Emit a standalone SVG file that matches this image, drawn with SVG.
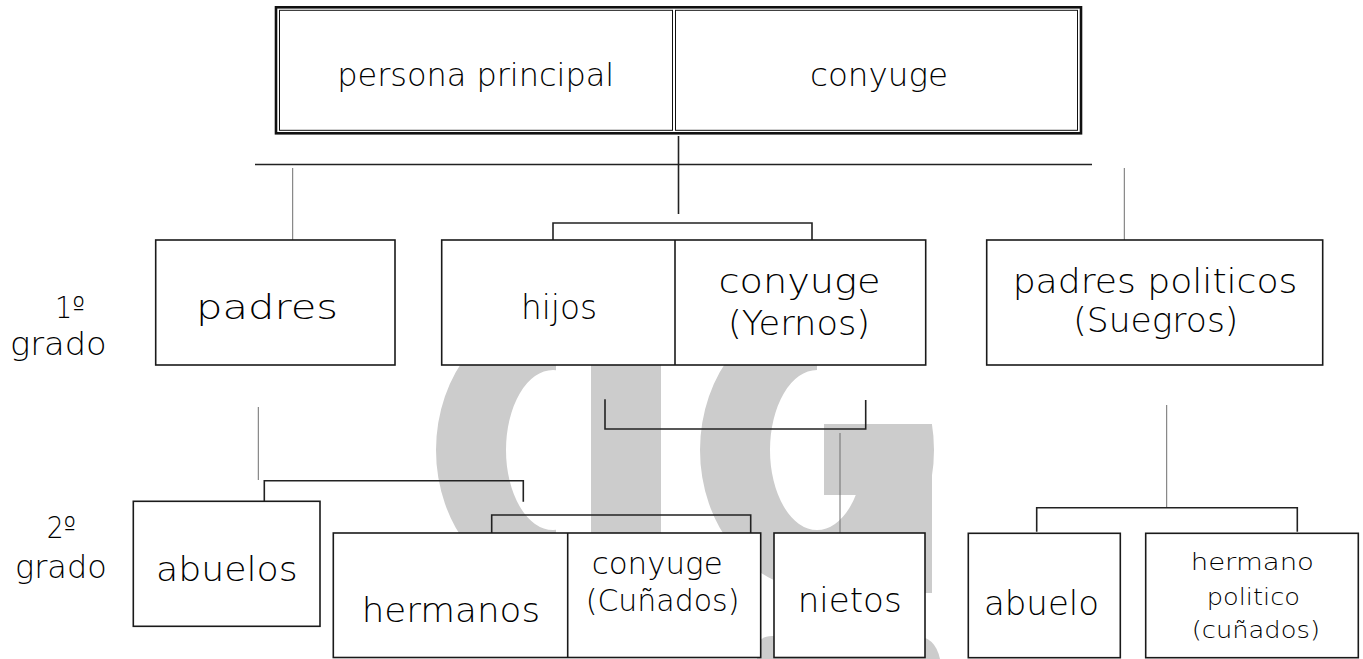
<svg xmlns="http://www.w3.org/2000/svg" width="1363" height="659" viewBox="0 0 1363 659">
<style>
  .box { fill: #ffffff; stroke: #1a1a1a; stroke-width: 1.6; }
  .div { stroke: #1a1a1a; stroke-width: 1.6; fill: none; }
  .thick { fill: #ffffff; stroke: #111111; stroke-width: 2.6; }
  .thin { fill: none; stroke: #111111; stroke-width: 1; }
  .dk { fill: none; stroke: #222222; stroke-width: 1.6; }
  .gr { fill: none; stroke: #6e6e6e; stroke-width: 1; }
  .t { font-family: "DejaVu Sans", "Liberation Sans", sans-serif; font-weight: 200; fill: #000000; }
  .wm { fill: #cccccc; }
</style>
<defs>
  <clipPath id="cClip"><rect x="400" y="250" width="156" height="420"/></clipPath>
  <clipPath id="gClip"><path d="M600 250 H817 V424 H1000 V700 H600 Z"/></clipPath>
</defs>
<rect width="1363" height="659" fill="#ffffff"/>

<g id="watermark">
  <path class="wm" clip-path="url(#cClip)" fill-rule="evenodd" d="M436,450 a117,140 0 1,0 234,0 a117,140 0 1,0 -234,0 Z M506,450 a47,80 0 1,0 94,0 a47,80 0 1,0 -94,0 Z"/>
  <rect class="wm" x="591" y="300" width="70" height="320"/>
  <path class="wm" clip-path="url(#gClip)" fill-rule="evenodd" d="M700,450 a117,140 0 1,0 234,0 a117,140 0 1,0 -234,0 Z M770,450 a47,80 0 1,0 94,0 a47,80 0 1,0 -94,0 Z"/>
  <rect class="wm" x="824" y="424" width="108" height="71"/>
  <rect class="wm" x="863" y="494" width="69" height="99"/>
  <path class="wm" d="M757 659 V650 Q757 636 772 636 H915 Q935 636 940 659 Z"/>
</g>

<g id="connectors">
  <line class="dk" x1="678.5" y1="136" x2="678.5" y2="214"/>
  <line class="dk" x1="255" y1="164.5" x2="1092" y2="164.5"/>
  <line class="gr" x1="292.7" y1="168" x2="292.7" y2="240"/>
  <line class="gr" x1="1124.3" y1="168" x2="1124.3" y2="240"/>
  <path class="dk" d="M553 240 V223 H812 V240"/>
  <line class="gr" x1="258.3" y1="407" x2="258.3" y2="480"/>
  <path class="dk" d="M264.3 501.3 V480.7 H523.3 V501.7"/>
  <path class="dk" d="M491.7 533 V515 H750.7 V533"/>
  <path class="dk" d="M605 399.3 V429 H865.7 V400"/>
  <line class="gr" x1="840" y1="433" x2="840" y2="533"/>
  <line class="gr" x1="1166.7" y1="405" x2="1166.7" y2="507.7"/>
  <path class="dk" d="M1036.7 531.7 V507.7 H1297.3 V531.7"/>
</g>

<g id="node-top">
  <rect class="thick" x="276" y="7.3" width="805" height="126"/>
  <rect class="thin" x="279.5" y="10.3" width="393" height="120"/>
  <rect class="thin" x="675.5" y="10.3" width="402" height="120"/>
  <text class="t" x="337.2" y="86" font-size="32" textLength="277" lengthAdjust="spacingAndGlyphs">persona principal</text>
  <text class="t" x="810" y="86" font-size="32" textLength="138" lengthAdjust="spacingAndGlyphs">conyuge</text>
</g>

<g id="label-grado1">
  <text class="t" x="55" y="318" font-size="30" textLength="30" lengthAdjust="spacingAndGlyphs">1º</text>
  <text class="t" x="10" y="355" font-size="32" textLength="96.7" lengthAdjust="spacingAndGlyphs">grado</text>
</g>

<g id="node-padres">
  <rect class="box" x="155.7" y="240" width="239.3" height="125"/>
  <text class="t" x="196" y="319.3" font-size="34" textLength="142" lengthAdjust="spacingAndGlyphs">padres</text>
</g>

<g id="node-hijos">
  <rect class="box" x="441.7" y="240" width="484" height="125"/>
  <line class="div" x1="675" y1="240" x2="675" y2="365"/>
  <text class="t" x="521" y="318.5" font-size="34" textLength="76" lengthAdjust="spacingAndGlyphs">hijos</text>
  <text class="t" x="718.5" y="293.3" font-size="34" textLength="162" lengthAdjust="spacingAndGlyphs">conyuge</text>
  <text class="t" x="728" y="335" font-size="34" textLength="142" lengthAdjust="spacingAndGlyphs">(Yernos)</text>
</g>

<g id="node-padres-politicos">
  <rect class="box" x="986.7" y="240" width="336" height="125"/>
  <text class="t" x="1012.7" y="292.7" font-size="34" textLength="284.7" lengthAdjust="spacingAndGlyphs">padres politicos</text>
  <text class="t" x="1073.3" y="331.7" font-size="34" textLength="165" lengthAdjust="spacingAndGlyphs">(Suegros)</text>
</g>

<g id="label-grado2">
  <text class="t" x="46.7" y="538" font-size="30" textLength="29.3" lengthAdjust="spacingAndGlyphs">2º</text>
  <text class="t" x="15" y="578" font-size="32" textLength="91.7" lengthAdjust="spacingAndGlyphs">grado</text>
</g>

<g id="node-abuelos">
  <rect class="box" x="133.3" y="501.3" width="186.7" height="125"/>
  <text class="t" x="156" y="580.7" font-size="34" textLength="141.7" lengthAdjust="spacingAndGlyphs">abuelos</text>
</g>

<g id="node-hermanos">
  <rect class="box" x="333.3" y="533" width="427.4" height="124.5"/>
  <line class="div" x1="567.7" y1="533" x2="567.7" y2="657.5"/>
  <text class="t" x="361.7" y="622.3" font-size="34" textLength="178.3" lengthAdjust="spacingAndGlyphs">hermanos</text>
  <text class="t" x="591.7" y="574" font-size="30" textLength="131" lengthAdjust="spacingAndGlyphs">conyuge</text>
  <text class="t" x="585.7" y="611" font-size="30" textLength="153.7" lengthAdjust="spacingAndGlyphs">(Cuñados)</text>
</g>

<g id="node-nietos">
  <rect class="box" x="774" y="533" width="151" height="124.5"/>
  <text class="t" x="797.7" y="611.7" font-size="34" textLength="104" lengthAdjust="spacingAndGlyphs">nietos</text>
</g>

<g id="node-abuelo">
  <rect class="box" x="968.3" y="533.3" width="152" height="124.4"/>
  <text class="t" x="984" y="615" font-size="33" textLength="115" lengthAdjust="spacingAndGlyphs">abuelo</text>
</g>

<g id="node-hermano-politico">
  <rect class="box" x="1145.7" y="533.3" width="212.6" height="124.4"/>
  <text class="t" x="1190.7" y="570" font-size="23" textLength="123.3" lengthAdjust="spacingAndGlyphs">hermano</text>
  <text class="t" x="1206.7" y="605" font-size="23" textLength="93.3" lengthAdjust="spacingAndGlyphs">politico</text>
  <text class="t" x="1191.7" y="638.3" font-size="23" textLength="128.3" lengthAdjust="spacingAndGlyphs">(cuñados)</text>
</g>
</svg>
